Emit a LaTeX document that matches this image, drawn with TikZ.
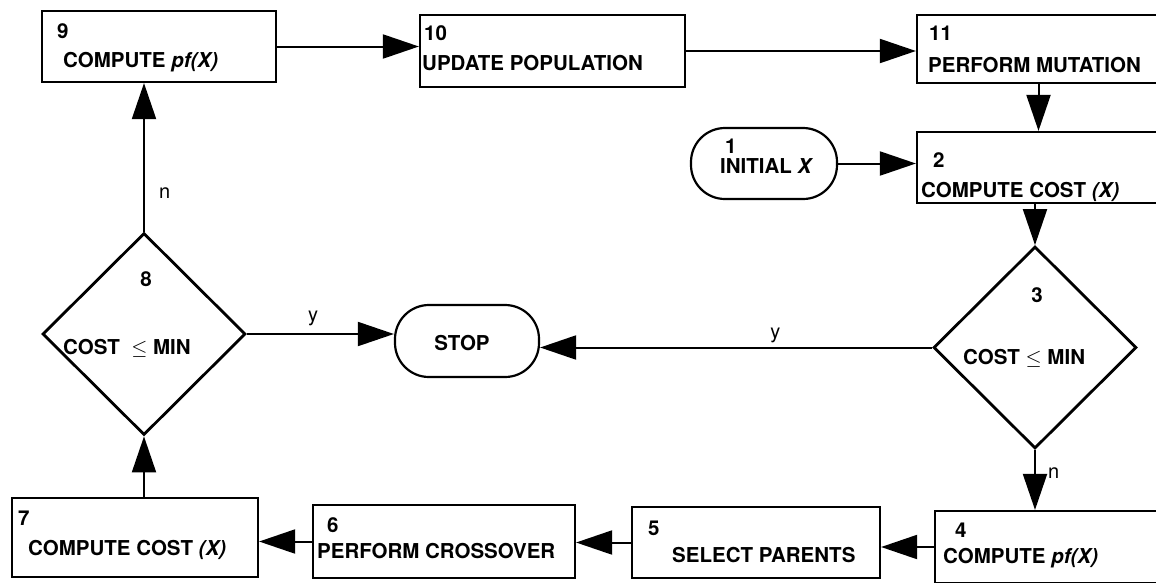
\documentclass[tikz,border=0pt]{standalone}
\usepackage{fontspec}
\setmainfont{TeX Gyre Heros}
\usepackage{tikz}
\usetikzlibrary{arrows.meta,shapes.geometric}

\begin{document}
\begin{tikzpicture}[x=1pt,y=-1pt,
    box/.style={draw, line width=2.2pt, inner sep=0pt},
    term/.style={draw, line width=2.2pt, rounded corners=34pt, inner sep=0pt},
    test/.style={draw, diamond, line width=2.8pt, inner sep=0pt, minimum width=203pt, minimum height=202pt},
    txt/.style={anchor=base west, inner sep=0pt, font=\fontsize{20.5}{24}\selectfont\bfseries},
    flag/.style={anchor=base west, inner sep=0pt, font=\fontsize{20}{24}\selectfont},
    flow/.style={line width=2pt, -{Triangle[length=36pt,width=24pt]}}]
    \useasboundingbox (0,0) rectangle (1156,582);
    \node[box, minimum width=234pt, minimum height=71pt] (b9) at (159,46.5) {};
    \node[box, minimum width=265pt, minimum height=72pt] (b10) at (552.5,51) {};
    \node[box, minimum width=243pt, minimum height=68pt] (b11) at (1038.5,49) {};
    \node[term, minimum width=146pt, minimum height=71pt] (b1) at (764,163.5) {};
    \node[box, minimum width=243pt, minimum height=71pt] (b2) at (1038.5,167.5) {};
    \node[test] (d3) at (1035,347.5) {};
    \node[term, minimum width=144pt, minimum height=72pt] (stop) at (467,341) {};
    \node[test] (d8) at (144,334) {};
    \node[box, minimum width=246pt, minimum height=79pt] (b7) at (135,537.5) {};
    \node[box, minimum width=262pt, minimum height=73pt] (b6) at (444,541.5) {};
    \node[box, minimum width=248pt, minimum height=71pt] (b5) at (756,542.5) {};
    \node[box, minimum width=225pt, minimum height=72pt] (b4) at (1047.5,547) {};

    \node[txt] (n9) at (57,38) {9};
    \node[txt] (t9) at (63,67) {COMPUTE \textit{pf(X)}};
    \node[txt] (n10) at (424,40) {10};
    \node[txt] (t10) at (422,70) {UPDATE POPULATION};
    \node[txt] (n11) at (929,40) {11};
    \node[txt] (t11) at (928,72) {PERFORM MUTATION};
    \node[txt] (n1) at (725,153) {1};
    \node[txt] (t1) at (720,173) {INITIAL \textit{X}};
    \node[txt] (n2) at (933,167) {2};
    \node[txt] (t2) at (921,197) {COMPUTE COST \textit{(X)}};
    \node[txt, anchor=base] (n3) at (1037,302) {3};
    \node[txt] (t3) at (963,364) {COST $\leq$ MIN};
    \node[txt, anchor=base] (tstop) at (462,350) {STOP};
    \node[txt, anchor=base] (n8) at (146,286) {8};
    \node[txt] (t8) at (63,354) {COST\ \ $\leq$ MIN};
    \node[txt] (n7) at (18,525) {7};
    \node[txt] (t7) at (28,555) {COMPUTE COST \textit{(X)}};
    \node[txt] (n6) at (327,532) {6};
    \node[txt] (t6) at (317,558) {PERFORM CROSSOVER};
    \node[txt] (n5) at (648,535) {5};
    \node[txt] (t5) at (672,562) {SELECT PARENTS};
    \node[txt] (n4) at (955,537) {4};
    \node[txt] (t4) at (943,563) {COMPUTE \textit{pf(X)}};

    \draw[flow] (b9.east) -- (b9.east -| b10.west);
    \draw[flow] (b10.east) -- (b10.east -| b11.west);
    \draw[flow] (b11.south) -- (b2.north);
    \draw[flow] (b1.east) -- (b1.east -| b2.west);
    \draw[flow] (b2.south -| d3.north) -- (d3.north);
    \draw[flow] (d3.west) -- (d3.west -| stop.east) node[flag, pos=0.415, yshift=9.5pt] (y3) {y};
    \draw[flow] (d3.south) -- (d3.south |- b4.north) node[flag, pos=0.48, xshift=12pt] (no3) {n};
    \draw[flow] (b4.west) -- (b4.west -| b5.east);
    \draw[flow] (b5.west) -- (b5.west -| b6.east);
    \draw[flow] (b6.west) -- (b6.west -| b7.east);
    \draw[flow] (d8.south |- b7.north) -- (d8.south);
    \draw[flow] (d8.east) -- (d8.east -| stop.west) node[flag, pos=0.41, yshift=13pt] (y8) {y};
    \draw[flow] (d8.north) -- (d8.north |- b9.south) node[flag, pos=0.22, xshift=14pt] (no8) {n};
\end{tikzpicture}
\end{document}
